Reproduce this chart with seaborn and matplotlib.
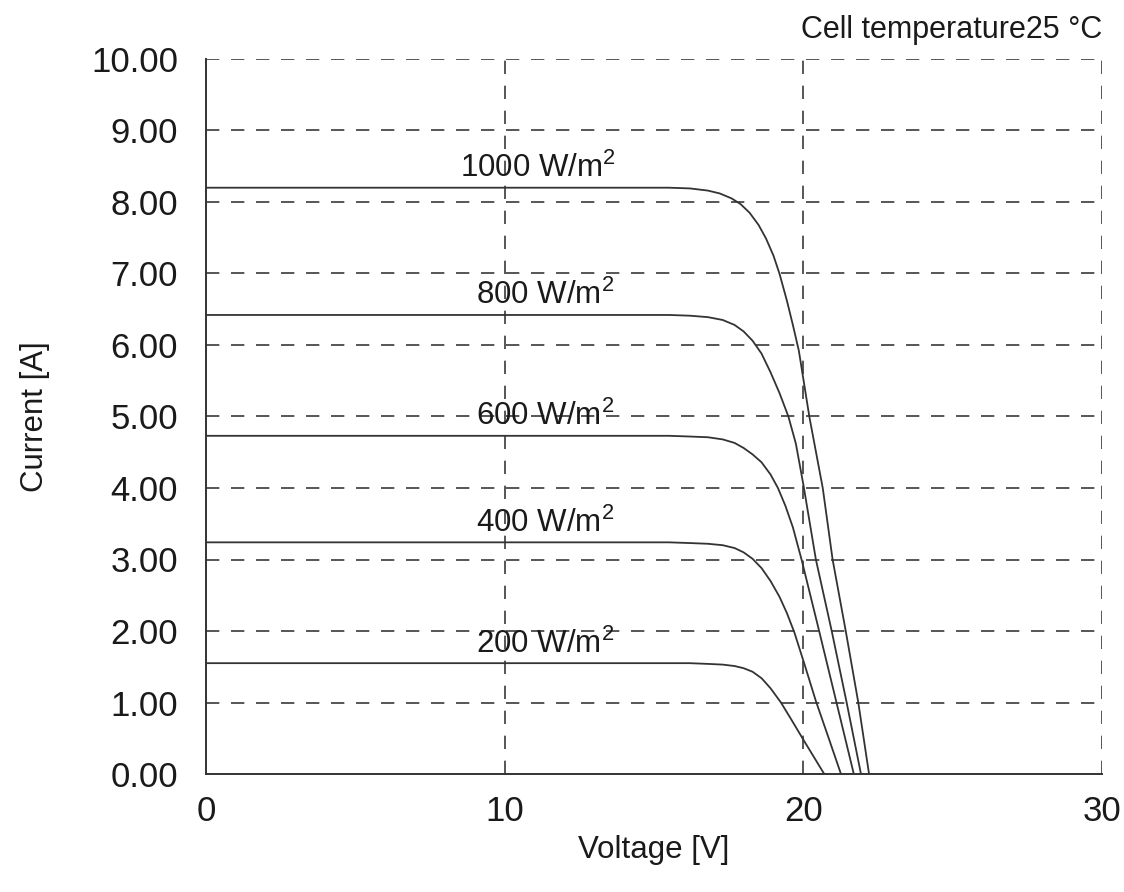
import matplotlib
matplotlib.use("Agg")
import matplotlib.pyplot as plt
import seaborn as sns
import pandas as pd

# ---- data ----
irradiance_labels = ["1000", "800", "600", "400", "200"]

v_1000 = [0, 14.5, 15.5, 16.2, 16.8, 17.2, 17.6, 17.9, 18.2, 18.5, 18.75, 19.0, 19.2, 19.45, 19.65, 19.85,
          20.2, 20.65, 20.98, 21.42, 21.84, 22.2]
i_1000 = [8.20, 8.20, 8.20, 8.19, 8.16, 8.12, 8.05, 7.97, 7.85, 7.68, 7.49, 7.25, 7.00, 6.62, 6.28, 5.92,
          5.00, 4.00, 3.00, 2.00, 1.00, 0.00]

v_800 = [0, 14.5, 15.5, 16.2, 16.8, 17.3, 17.7, 18.0, 18.3, 18.6, 18.9, 19.2, 19.5, 19.75, 20.0,
         20.42, 20.95, 21.45, 21.93]
i_800 = [6.42, 6.42, 6.42, 6.41, 6.39, 6.35, 6.28, 6.19, 6.06, 5.88, 5.62, 5.33, 5.00, 4.62, 4.05,
         3.00, 2.00, 1.00, 0.00]

v_600 = [0, 14.5, 15.5, 16.2, 16.8, 17.3, 17.7, 18.0, 18.3, 18.6, 18.9, 19.15, 19.4, 19.65, 19.94,
         20.5, 21.11, 21.69]
i_600 = [4.73, 4.73, 4.73, 4.72, 4.71, 4.68, 4.63, 4.56, 4.47, 4.36, 4.19, 4.00, 3.75, 3.45, 3.00,
         2.05, 1.00, 0.00]

v_400 = [0, 14.5, 15.5, 16.2, 16.8, 17.3, 17.7, 18.0, 18.3, 18.6, 18.9, 19.2, 19.45, 19.7, 20.05,
         20.42, 20.85, 21.26]
i_400 = [3.24, 3.24, 3.24, 3.23, 3.22, 3.20, 3.16, 3.10, 3.01, 2.88, 2.70, 2.48, 2.25, 1.98, 1.52,
         1.02, 0.50, 0.00]

v_200 = [0, 14.5, 15.5, 16.2, 16.8, 17.3, 17.7, 18.0, 18.3, 18.6, 18.9, 19.25, 19.6, 20.0, 20.35, 20.7]
i_200 = [1.55, 1.55, 1.55, 1.55, 1.54, 1.53, 1.51, 1.48, 1.43, 1.34, 1.20, 1.00, 0.76, 0.48, 0.24, 0.00]

label_x = [11.1, 11.35, 11.35, 11.35, 11.35]
label_y = [8.25, 6.47, 4.78, 3.29, 1.60]

x_ticks = [0, 10, 20, 30]
y_ticks = [0, 1, 2, 3, 4, 5, 6, 7, 8, 9, 10]

series = {"1000": (v_1000, i_1000), "800": (v_800, i_800), "600": (v_600, i_600),
          "400": (v_400, i_400), "200": (v_200, i_200)}
rows = []
for k, (vs, is_) in series.items():
    for v, i in zip(vs, is_):
        rows.append({"Voltage": v, "Current": i, "G": k})
df = pd.DataFrame(rows)

# ---- style ----
sns.set_theme(style="white")
plt.rcParams["font.family"] = ["Liberation Sans", "DejaVu Sans"]
plt.rcParams["mathtext.fontset"] = "custom"
plt.rcParams["mathtext.rm"] = "Liberation Sans"
plt.rcParams["mathtext.it"] = "Liberation Sans"
FS_TICK = 25
FS_TXT = 22.5
TXT = "#1a1a1a"
LINE = "#333333"

fig = plt.figure(figsize=(11.24, 8.92), dpi=100)
ax = fig.add_axes([206/1124, 1-774/892, (1102-206)/1124, (774-59)/892])

sns.lineplot(data=df, x="Voltage", y="Current", hue="G", units="G", estimator=None,
             palette={k: LINE for k in irradiance_labels}, linewidth=1.3,
             sort=False, legend=False, ax=ax, zorder=3)

ax.set_xlim(0, 30)
ax.set_ylim(0, 10)
ax.set_xticks(x_ticks)
ax.set_yticks(y_ticks)
ax.set_xticklabels([str(t) for t in x_ticks])
ax.set_yticklabels([f"{t:.2f}" for t in y_ticks])
ax.tick_params(axis="both", length=0, labelsize=FS_TICK, colors=TXT)
ax.tick_params(axis="y", pad=20)
ax.tick_params(axis="x", pad=15)

# dashed grid (excluding the solid axes at 0)
for x in x_ticks[1:]:
    ax.axvline(x, color="#3a3a3a", lw=1.2, linestyle=(0, (8.0, 7.0)), zorder=1)
for y in y_ticks[1:]:
    ax.axhline(y, color="#3a3a3a", lw=1.2, linestyle=(0, (8.0, 7.0)), zorder=1)

for s in ["top", "right"]:
    ax.spines[s].set_visible(False)
for s in ["left", "bottom"]:
    ax.spines[s].set_visible(True)
    ax.spines[s].set_color("#333333")
    ax.spines[s].set_linewidth(1.4)

for lab, lx, ly in zip(irradiance_labels, label_x, label_y):
    ax.text(lx, ly, lab + r" W/m$^2$", fontsize=FS_TXT, color=TXT, ha="center", va="bottom", zorder=4)

ax.set_xlabel("Voltage [V]", fontsize=FS_TXT, color=TXT)
ax.set_ylabel("Current [A]", fontsize=FS_TXT, color=TXT)
ax.yaxis.set_label_coords(-171/896, 0.5)
ax.xaxis.set_label_coords(0.5, -(850-774)/715)
ax.xaxis.label.set_va("center")
ax.yaxis.label.set_va("center")

fig.text(1102/1124, 1-30/892, "Cell temperature25 °C", fontsize=22, color=TXT, ha="right", va="center")

fig.savefig("out.png", dpi=100, facecolor="white")
